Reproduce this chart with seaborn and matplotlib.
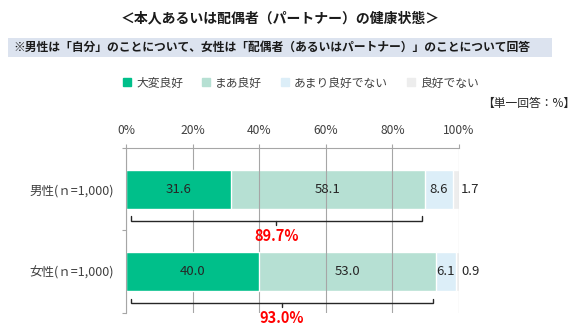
import numpy as np
import pandas as pd
import matplotlib
matplotlib.use("Agg")
import matplotlib.pyplot as plt
from matplotlib.lines import Line2D
from matplotlib.patches import Rectangle
import seaborn as sns

# Survey data (single answer, %)
groups = ["男性(ｎ=1,000)", "女性(ｎ=1,000)"]
very_good = [31.6, 40.0]
fairly_good = [58.1, 53.0]
not_very_good = [8.6, 6.1]
not_good = [1.7, 0.9]
series_names = ["大変良好", "まあ良好", "あまり良好でない", "良好でない"]
series_colors = ["#00BF8A", "#B6E0D3", "#DCEEF8", "#EDEDED"]
x_ticks = [0, 20, 40, 60, 80, 100]

title = "＜本人あるいは配偶者（パートナー）の健康状態＞"
subtitle = "※男性は「自分」のことについて、女性は「配偶者（あるいはパートナー）」のことについて回答"
unit_note = "【単一回答：%】"

sns.set_style("white")
plt.rcParams["font.family"] = ["Noto Sans CJK JP", "DejaVu Sans"]

text_color = "#404040"
grid_color = "#A6A6A6"

df = pd.DataFrame({
    "group": groups,
    "s1": very_good,
    "s2": fairly_good,
    "s3": not_very_good,
    "s4": not_good,
})
cols = ["s1", "s2", "s3", "s4"]
cum = df[cols].cumsum(axis=1)
for i, c in enumerate(cols):
    df["cum_" + c] = cum[c]

fig = plt.figure(figsize=(5.77, 3.34), dpi=100)
ax = fig.add_axes([126 / 577, 1 - 313 / 334, 333 / 577, 165 / 334])

# Stacked bars: draw cumulative totals from the outermost layer inward
zorders = [2.0, 1.2, 1.1, 1.0]
for i in reversed(range(4)):
    sns.barplot(data=df, x="cum_" + cols[i], y="group", order=groups, orient="h",
                color=series_colors[i], saturation=1, width=0.47, errorbar=None,
                edgecolor="white", linewidth=1.0, zorder=zorders[i], ax=ax)

ax.set_xlim(0, 100)
ax.set_ylim(1.5, -0.5)
ax.set_xlabel("")
ax.set_ylabel("")

# Axis styling: percentage scale on top, light vertical gridlines
ax.xaxis.tick_top()
ax.set_xticks(x_ticks)
ax.set_xticklabels([f"{t}%" for t in x_ticks])
ax.tick_params(axis="x", which="major", top=True, bottom=False, length=3, width=0.8,
               color=grid_color, pad=5, labelsize=8.7, labelcolor=text_color)
ax.set_axisbelow("line")
ax.grid(axis="x", color=grid_color, linewidth=0.8)
ax.grid(axis="y", visible=False)
ax.set_yticks(range(len(groups)))
ax.set_yticklabels(groups)
ax.set_yticks([-0.5, 0.5, 1.5], minor=True)
ax.tick_params(axis="y", which="major", left=False, length=0, pad=9,
               labelsize=9, labelcolor=text_color)
ax.tick_params(axis="y", which="minor", left=True, length=3, width=0.8, color=grid_color)
for side in ["right", "bottom"]:
    ax.spines[side].set_visible(False)
for side in ["left", "top"]:
    ax.spines[side].set_color(grid_color)
    ax.spines[side].set_linewidth(0.8)

# Segment value labels
for r in range(len(groups)):
    left = 0.0
    for i, c in enumerate(cols):
        v = df.loc[r, c]
        if i < 3:
            ax.text(left + v / 2, r, f"{v:.1f}", ha="center", va="center",
                    fontsize=9.5, color="#262626", zorder=5)
        else:
            ax.text(100.6, r, f"{v:.1f}", ha="left", va="center",
                    fontsize=9.5, color="#262626", zorder=5)
        left += v

# Brackets showing the combined share of the two positive answers
good_total = [a + b for a, b in zip(very_good, fairly_good)]
for r, tot in enumerate(good_total):
    x0, x1 = 1.5, tot - 0.9
    xc = (x0 + x1) / 2
    y_line = r + 0.38
    y_end = r + 0.33
    ax.plot([x0, x0, x1, x1], [y_end, y_line, y_line, y_end],
            color="#262626", linewidth=1.0, zorder=6, solid_joinstyle="miter")
    ax.plot([xc, xc], [y_line, r + 0.43], color="#262626", linewidth=1.0, zorder=6)
    ax.text(xc, r + 0.565, f"{tot:.1f}%", ha="center", va="center", fontsize=10.5,
            fontweight="bold", color="#FF0000", zorder=6, clip_on=False)

# Title and subtitle band
fig.text(280 / 577, 1 - 18 / 334, title, ha="center", va="center",
         fontsize=10, fontweight="bold", color="#1a1a1a")
fig.patches.append(Rectangle((8 / 577, 1 - 57 / 334), 544 / 577, 19 / 334,
                             transform=fig.transFigure, facecolor="#DCE3EF",
                             edgecolor="none", zorder=0))
fig.text(13 / 577, 1 - 47.5 / 334, subtitle, ha="left", va="center",
         fontsize=8.5, fontweight="bold", color="#1a1a1a")

# Legend
handles = [Line2D([0], [0], marker="s", linestyle="none", markersize=5.5,
                  markerfacecolor=col, markeredgecolor=col)
           for col in series_colors]
fig.legend(handles, series_names, loc="center", bbox_to_anchor=(301 / 577, 1 - 83 / 334),
           ncol=4, frameon=False, fontsize=8.5, handlelength=0.7, handletextpad=0.4,
           columnspacing=1.6, labelcolor=text_color, borderaxespad=0, borderpad=0)

fig.text(575 / 577, 1 - 103 / 334, unit_note, ha="right", va="center",
         fontsize=8.5, color="#262626")

fig.savefig("out.png", dpi=100)
